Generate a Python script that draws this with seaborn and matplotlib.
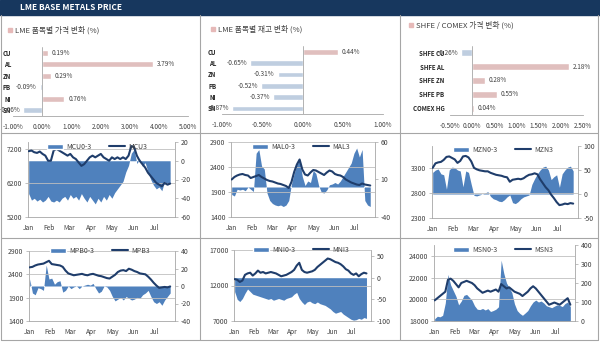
import numpy as np
import pandas as pd
import matplotlib
matplotlib.use('Agg')
import matplotlib.pyplot as plt
import matplotlib.dates as mdates
from matplotlib.patches import Rectangle, Patch
from matplotlib.lines import Line2D
from matplotlib.ticker import FuncFormatter
import seaborn as sns

sns.set_style('white')
plt.rcParams['font.family'] = ['Noto Sans CJK KR', 'DejaVu Sans']
plt.rcParams['axes.unicode_minus'] = False

# ---- data ----
lme_cats = ['CU', 'AL', 'ZN', 'PB', 'NI', 'SN']
lme_price_chg = [0.19, 3.79, 0.29, -0.09, 0.76, -0.66]
lme_stock_chg = [0.44, -0.65, -0.31, -0.52, -0.37, -0.87]
shfe_cats = ['SHFE CU', 'SHFE AL', 'SHFE ZN', 'SHFE PB', 'COMEX HG']
shfe_chg = [-0.26, 2.18, 0.28, 0.55, 0.04]

dates = pd.date_range('2012-01-02', periods=52, freq='4D')

mcu3 = [7130, 7150, 7100, 7080, 7120, 7050, 7000, 6850, 6850, 7150, 7200, 7150, 7100,
        7050, 7000, 7050, 6950, 6900, 6800, 6700, 6750, 6850, 6950, 7000, 6950, 7000,
        7050, 6950, 6900, 6850, 6950, 6900, 6950, 6900, 6950, 6900, 7000, 7280, 7250,
        7000, 6850, 6750, 6650, 6500, 6400, 6300, 6200, 6150, 6100, 6200, 6150, 6180]
mcu_spread = [-35, -42, -40, -43, -41, -44, -42, -38, -43, -44, -42, -44, -40, -38, -42,
              -36, -40, -38, -42, -35, -40, -44, -38, -42, -46, -40, -44, -38, -42, -36,
              -40, -34, -30, -26, -22, -12, -5, 8, 12, -3, 2, -6, -2, -12, -20, -26, -30,
              -28, -32, -22, -26, -24]

mal3 = [2150, 2200, 2230, 2250, 2260, 2240, 2230, 2180, 2200, 2220, 2240, 2200, 2170,
        2140, 2120, 2110, 2090, 2070, 2060, 2040, 2020, 1980, 2100, 2300, 2450, 2550,
        2350, 2250, 2230, 2290, 2340, 2330, 2300, 2270, 2240, 2290, 2330, 2310, 2260,
        2240, 2230, 2200, 2150, 2120, 2090, 2070, 2050, 2040, 2070, 2050, 2040, 2030]
mal_spread = [-10, -12, -3, -4, -3, -5, 0, -3, -6, 45, 50, 28, 24, -8, -18, -22, -24, -25,
              -24, -26, -24, -18, 4, 18, 30, 36, 14, 2, 8, 6, 22, 18, 2, -7, -8, -4, 3, 4,
              6, 4, 8, 14, 20, 26, 32, 45, 52, 40, 50, -18, -24, -26]

mzn3 = [3310, 3400, 3420, 3430, 3470, 3530, 3540, 3510, 3480, 3410, 3450, 3540, 3550,
        3520, 3440, 3310, 3280, 3260, 3250, 3240, 3240, 3210, 3190, 3170, 3160, 3150,
        3130, 3120, 3030, 3070, 3080, 3090, 3080, 3100, 3140, 3170, 3180, 3200, 3180,
        3080, 3000, 2920, 2860, 2770, 2700, 2620, 2560, 2570, 2590, 2580, 2600, 2590]
mzn_spread = [45, 50, 52, 42, 40, 10, 50, 56, 55, 50, 48, 15, 48, 45, 20, -3, -4, -2, 0, 2,
              5, -5, -10, -12, -15, -16, -12, -6, -2, -18, -20, -16, -10, -6, -4, -2, 20,
              32, 42, 50, 56, 58, 50, 30, 36, 40, 14, 42, 50, 56, 58, 48]

mpb3 = [2550, 2560, 2590, 2610, 2620, 2630, 2660, 2690, 2620, 2610, 2600, 2590, 2560,
        2480, 2420, 2400, 2380, 2390, 2400, 2410, 2390, 2380, 2400, 2410, 2390, 2370,
        2360, 2340, 2320, 2310, 2350, 2390, 2450, 2480, 2490, 2470, 2520, 2500, 2470,
        2450, 2420, 2410, 2400, 2350, 2290, 2220, 2160, 2110, 2120, 2130, 2120, 2140]
mpb_spread = [8, -8, -10, -2, -3, -5, 24, 8, 9, 2, 5, 6, -7, -5, 0, -3, -1, 0, -3, 0, 1, 2,
              1, 3, -3, -8, -6, 0, -1, -5, -12, -17, -15, -13, -16, -12, -14, -16, -15,
              -13, -14, -10, -8, -5, -12, -18, -20, -18, -22, -16, -12, -8]

mni3 = [12900, 12800, 12500, 12700, 13500, 13700, 13800, 13400, 13700, 14100, 13800,
        13900, 13700, 13800, 13900, 13800, 13700, 13500, 13300, 13400, 13500, 13700,
        13900, 14200, 14800, 15200, 14200, 13900, 13800, 13900, 14000, 14200, 14600,
        14900, 15200, 15500, 15800, 15700, 15500, 15300, 15200, 15000, 14700, 14300,
        14100, 13700, 13500, 13700, 13300, 13600, 13800, 13700]
mni_spread = [-32, -50, -55, -48, -36, -26, -32, -38, -40, -42, -44, -46, -48, -50, -48,
              -52, -50, -48, -50, -52, -48, -46, -44, -38, -34, -48, -56, -62, -56, -54,
              -58, -60, -56, -60, -62, -64, -68, -72, -78, -82, -80, -78, -84, -88, -92,
              -96, -98, -97, -94, -96, -92, -94]

msn3 = [19900, 20100, 20300, 20500, 20700, 21800, 21900, 21700, 21400, 21100, 21500,
        21600, 21700, 21600, 21500, 21300, 21000, 20800, 20600, 20700, 20800, 20700,
        20800, 20900, 20700, 21400, 21200, 21000, 21100, 20900, 20700, 20600, 20500,
        20300, 20500, 20700, 21000, 21200, 21000, 20700, 20400, 20100, 19800, 19500,
        19600, 19700, 19600, 19500, 19700, 19900, 20100, 19500]
msn_spread = [12, 25, 22, 30, 95, 245, 190, 160, 130, 85, 105, 135, 140, 125, 110, 80, 62,
              60, 66, 58, 65, 50, 55, 62, 75, 320, 250, 200, 175, 150, 90, 55, 40, 30, 42,
              55, 80, 100, 110, 100, 105, 95, 80, 75, 70, 78, 85, 82, 76, 92, 100, 75]

# ---- style ----
W, H = 600, 354
NAVY = '#17375E'
LINE = '#1F3D6B'
AREA = '#4F81BD'
PINK = '#E6B9B8'
LBLUE = '#B9CDE5'
GRID = '#BFBFBF'
AXC = '#A6A6A6'
TXT = '#404040'


def rect(x0, y0, x1, y1):
    return [x0 / W, 1 - y1 / H, (x1 - x0) / W, (y1 - y0) / H]


fig = plt.figure(figsize=(6, 3.54), dpi=100)

# header bar
fig.add_artist(Rectangle((0, 1 - 15 / H), 1, 15 / H, color=NAVY, transform=fig.transFigure))
fig.text(20 / W, 1 - 7.5 / H, 'LME BASE METALS PRICE', color='white', fontsize=6,
         fontweight='bold', va='center', ha='left')

# panel borders
for x in (1, 200, 400, 598):
    fig.add_artist(Line2D([x / W, x / W], [1 - 15 / H, 1 - 340 / H], color=AXC, lw=0.8,
                          transform=fig.transFigure))
for y in (133, 238, 340):
    fig.add_artist(Line2D([1 / W, 598 / W], [1 - y / H, 1 - y / H], color=AXC, lw=0.8,
                          transform=fig.transFigure))


def bar_panel(box, cats, vals, title, xlim, step, leg, lpad):
    ax = fig.add_axes(rect(*box))
    cols = [PINK if v >= 0 else LBLUE for v in vals]
    sns.barplot(x=vals, y=cats, hue=cats, palette=cols, orient='h', width=0.5,
                legend=False, ax=ax)
    ax.set_xlim(xlim)
    ax.set_ylim(len(cats) - 0.5, -0.5)
    ax.set_xticks(np.arange(xlim[0], xlim[1] + step / 2, step))
    ax.xaxis.set_major_formatter(FuncFormatter(lambda v, p: f'{v:.2f}%'))
    ax.axvline(0, color=AXC, lw=0.6)
    for s in ('top', 'right', 'left'):
        ax.spines[s].set_visible(False)
    ax.spines['bottom'].set_color(AXC)
    ax.spines['bottom'].set_linewidth(0.6)
    ax.tick_params(axis='x', labelsize=4.6, labelcolor=TXT, color=AXC, length=2,
                   width=0.5, pad=3)
    ax.tick_params(axis='y', labelsize=4.4, length=0, pad=lpad)
    for t in ax.get_yticklabels():
        t.set_fontweight('bold')
    ax.set_xlabel('')
    ax.set_ylabel('')
    for i, v in enumerate(vals):
        ax.annotate(f'{v:.2f}%', (v, i), xytext=(3 if v >= 0 else -2, 0),
                    textcoords='offset points', ha='left' if v >= 0 else 'right',
                    va='center', fontsize=4.6, color=TXT)
    # legend square + title
    lx, ly = leg
    fig.add_artist(Rectangle((lx / W, 1 - (ly + 2) / H), 4 / W, 4 / H, color=PINK,
                             transform=fig.transFigure))
    fig.text((lx + 7) / W, 1 - ly / H, title, fontsize=5.6, color=TXT, va='center')


bar_panel((13, 47, 188, 116), lme_cats, lme_price_chg, 'LME 품목별 가격 변화 (%)',
          (-1, 5), 1, (8, 30), 1.5)
bar_panel((222, 46, 383, 114), lme_cats, lme_stock_chg, 'LME 품목별 재고 변화 (%)',
          (-1, 1), 0.5, (211, 29), 4)
bar_panel((450, 46, 583, 115), shfe_cats, shfe_chg, 'SHFE / COMEX 가격 변화 (%)',
          (-0.5, 2.5), 0.5, (409, 25), 4)


def ts_panel(box, left, spread, name, llim, lticks, rlim, rticks, leg):
    ax = fig.add_axes(rect(*box))
    ax.fill_between(dates, 0, spread, color=AREA, lw=0, zorder=1)
    axl = ax.twinx()
    ax.yaxis.tick_right()
    axl.yaxis.tick_left()
    for t in lticks:
        if t > llim[0]:
            axl.axhline(t, color=GRID, lw=0.6, zorder=0)
    sns.lineplot(x=dates, y=left, ax=axl, color=LINE, lw=1.5, zorder=3)
    ax.set_ylim(rlim)
    ax.set_yticks(rticks)
    axl.set_ylim(llim)
    axl.set_yticks(lticks)
    ax.set_xlim(pd.Timestamp('2012-01-01'), pd.Timestamp('2012-07-31'))
    ax.xaxis.set_major_locator(mdates.MonthLocator())
    ax.xaxis.set_major_formatter(mdates.DateFormatter('%b'))
    for a in (ax, axl):
        a.set_xlabel('')
        a.set_ylabel('')
        for s in a.spines.values():
            s.set_visible(False)
    for s in ('left', 'right', 'bottom'):
        ax.spines[s].set_visible(True)
        ax.spines[s].set_color(AXC)
        ax.spines[s].set_linewidth(0.6)
    ax.tick_params(axis='both', labelsize=5, labelcolor=TXT, color=AXC, length=2,
                   width=0.5, pad=2)
    ax.tick_params(axis='x', labelsize=4.8, pad=3)
    axl.tick_params(axis='y', labelsize=5, labelcolor=TXT, color=AXC, length=2,
                    width=0.5, pad=2)
    handles = [Patch(facecolor=AREA), Line2D([], [], color=LINE, lw=1.5)]
    axl.legend(handles, [f'{name}0-3', f'{name}3'], loc='center',
               bbox_to_anchor=(leg[0] / W, 1 - leg[1] / H), bbox_transform=fig.transFigure,
               ncol=2, frameon=False, fontsize=5, handlelength=2.3, handleheight=0.9,
               columnspacing=2.6, handletextpad=0.4, borderpad=0, labelcolor=TXT)


ts_panel((28, 142, 175, 217), mcu3, mcu_spread, 'MCU', (5200, 7400), [5200, 6200, 7200],
         (-60, 20), [-60, -40, -20, 0, 20], (97, 147))
ts_panel((231, 142, 375, 217), mal3, mal_spread, 'MAL', (1400, 2900),
         [1400, 1900, 2400, 2900], (-40, 60), [-40, 10, 60], (301, 147))
ts_panel((432, 146, 578, 218), mzn3, mzn_spread, 'MZN', (2300, 3750), [2300, 2800, 3300],
         (-50, 100), [-50, 0, 50, 100], (503, 150))
ts_panel((29, 251, 175, 321), mpb3, mpb_spread, 'MPB', (1400, 2900),
         [1400, 1900, 2400, 2900], (-40, 40), [-40, -20, 0, 20, 40], (100, 251))
ts_panel((234, 250, 371, 321), mni3, mni_spread, 'MNI', (7000, 17000),
         [7000, 12000, 17000], (-100, 64), [-100, -50, 0, 50], (301, 250))
ts_panel((434, 245, 575, 321), msn3, msn_spread, 'MSN', (18000, 25000),
         [18000, 20000, 22000, 24000], (0, 400), [0, 100, 200, 300, 400], (503, 250))

fig.savefig('out.png', dpi=100)
